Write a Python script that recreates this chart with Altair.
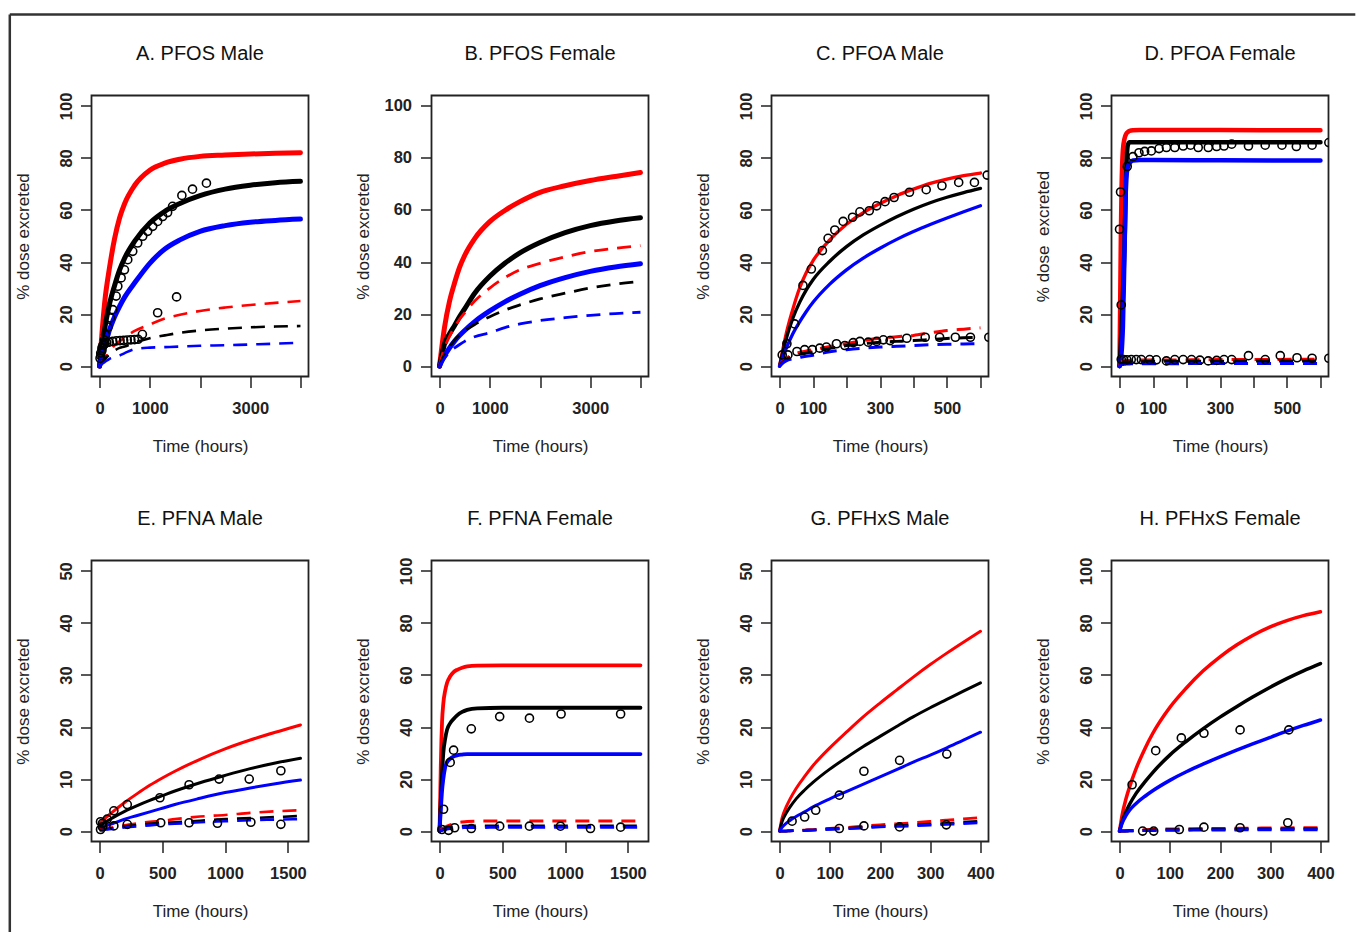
import altair as alt
import pandas as pd

FONT = "Liberation Sans"
INK = "#222222"
RED, BLACK, BLUE = "#ff0000", "#000000", "#0000ff"
W, H = 217, 281

# ---------------- A. PFOS Male ----------------
t_ab = [0, 50, 100, 200, 300, 400, 500, 700, 1000, 1300, 1600, 2000, 2500, 3000, 3500, 4000]
a_red = [0, 13, 24, 38, 49, 57, 62.5, 69.5, 75.3, 78, 79.5, 80.6, 81.1, 81.5, 81.8, 82]
a_black = [0, 7, 14, 24, 31, 37, 41.5, 48, 55, 59.5, 62.5, 65.5, 68, 69.5, 70.5, 71]
a_blue = [0, 4, 8, 14, 19, 23, 26.5, 32, 39.5, 45, 48.5, 51.8, 54, 55.3, 56, 56.5]
a_red_d = [0, 1.5, 3, 5.5, 8, 9.5, 11, 13.5, 16, 18.3, 19.7, 21.2, 22.5, 23.5, 24.3, 25]
a_black_d = [0, 1.2, 2.5, 4.5, 6, 7, 7.5, 9, 10.7, 11.8, 12.8, 13.7, 14.4, 14.9, 15.2, 15.4]
a_blue_d = [0, 0.8, 1.5, 2.8, 3.5, 4.1, 5, 6.5, 7.1, 7.3, 7.5, 7.8, 8.0, 8.3, 8.6, 9]
a_urine_t = [24, 48, 72, 96, 120, 168, 216, 264, 330, 364, 430, 496, 562, 661, 760, 859, 958,
             1058, 1157, 1256, 1355, 1454, 1639, 1851, 2128]
a_urine = [4, 6, 8, 10, 12, 15, 18.5, 21.7, 26.9, 30.7, 33.9, 37, 40.9, 44.1, 47.3, 49.9, 51.8,
           53.7, 55.6, 57.5, 59, 61.4, 65.6, 68, 70.3]
a_feces_t = [10, 24, 48, 72, 96, 144, 192, 264, 336, 408, 480, 552, 624, 696, 768, 853, 1157, 1534]
a_feces = [3, 5, 7, 8, 8.5, 9, 9.2, 9.5, 9.7, 9.8, 9.9, 10, 10.1, 10.2, 10.3, 12.2, 20.5, 26.6]

# ---------------- B. PFOS Female ----------------
b_red = [0, 8, 15, 25, 32, 38, 42.5, 49, 55.5, 59.8, 63.2, 66.8, 69.3, 71.3, 72.9, 74.4]
b_black = [0, 4.5, 8.6, 12.4, 15.6, 19, 22, 28, 34.5, 39.5, 43.5, 47.5, 51.3, 54, 55.8, 57]
b_blue = [0, 2.2, 4, 7, 9.6, 11.8, 13.7, 17.1, 21.2, 24.7, 27.6, 30.9, 34, 36.4, 38.1, 39.3]
b_red_d = [0, 4, 7, 11.5, 15, 18, 20.5, 25, 30, 34, 37, 39.5, 42, 44, 45.3, 46.3]
b_black_d = [0, 2.5, 4.5, 7.5, 10, 12, 13.5, 16, 19, 21.5, 23.5, 25.8, 28, 30, 31.5, 32.6]
b_blue_d = [0, 1.5, 3, 5.5, 7, 8.3, 9.5, 11.3, 12.8, 14.8, 16.2, 17.5, 18.6, 19.5, 20.2, 20.7]

# ---------------- C. PFOA Male ----------------
t_c = [0, 10, 20, 40, 60, 80, 100, 150, 200, 250, 300, 350, 400, 450, 500, 550, 600]
c_red = [0, 6.5, 12.5, 22, 30, 36, 40.5, 48.5, 54.5, 59, 62.5, 65.5, 68, 70.2, 71.9, 73.2, 74.2]
c_black = [0, 5.5, 10.5, 18.5, 24.5, 29.3, 33.2, 40.3, 45.9, 50.4, 54.1, 57.4, 60.3, 62.8, 64.9, 66.7, 68.3]
c_blue = [0, 3.5, 6.8, 12.5, 17, 21, 24.5, 31.5, 37, 41.5, 45.3, 48.7, 51.7, 54.4, 56.9, 59.3, 61.6]
c_red_d = [0, 2, 3, 4.5, 5.3, 5.8, 6.3, 7.5, 8.7, 9.8, 10.7, 11.3, 11.8, 12.8, 13.7, 14.2, 14.7]
c_black_d = [0, 1.5, 2.5, 3.8, 4.5, 5, 5.5, 6.8, 7.9, 8.6, 9.2, 9.5, 9.8, 10.2, 10.6, 10.9, 11.1]
c_blue_d = [0, 1.2, 2, 2.8, 3.3, 3.8, 4.2, 5.5, 6.3, 6.9, 7.3, 7.6, 7.9, 8.2, 8.4, 8.5, 8.6]
c_urine_t = [8, 22, 45, 70, 95, 128, 145, 165, 190, 218, 240, 268, 290, 315, 342, 388, 438, 485,
             535, 582, 620]
c_urine = [4.3, 8.6, 16.2, 31, 37.3, 44.4, 49.1, 52.3, 55.6, 57.2, 59.3, 59.7, 61.6, 63.2, 64.8,
           66.8, 67.8, 69.3, 70.6, 70.6, 73.4]
c_feces_t = [25, 52, 75, 98, 120, 140, 170, 195, 220, 240, 265, 290, 310, 330, 380, 435, 478,
             525, 570, 625]
c_feces = [4.3, 5.6, 6.3, 6.3, 6.9, 7.3, 8.6, 7.9, 9, 9.5, 9.2, 9.5, 10.1, 9.8, 10.7, 11.1, 11.1,
           11.1, 11.1, 11.1]

# ---------------- D. PFOA Female ----------------
t_d = [0, 2, 4, 6, 8, 10, 15, 20, 25, 30, 40, 60, 100, 300, 600]
d_red = [0, 25, 50, 68, 78, 83, 87.5, 89.3, 90, 90.4, 90.6, 90.7, 90.7, 90.7, 90.6]
d_black = [0, 4, 9, 15, 21, 27, 47, 75, 85, 86, 86, 86, 86, 86, 86]
d_blue = [0, 1, 3, 5, 9, 15, 45, 72, 76.5, 78, 79, 79.2, 79.2, 79.1, 79]
d_red_d = [0, 0.8, 1.3, 1.6, 1.8, 1.9, 2.0, 2.1, 2.1, 2.2, 2.2, 2.3, 2.3, 2.5, 2.6]
d_black_d = [0, 0.4, 0.7, 0.9, 1.1, 1.2, 1.4, 1.5, 1.6, 1.6, 1.7, 1.7, 1.8, 1.9, 2.0]
d_blue_d = [0, 0.2, 0.4, 0.5, 0.6, 0.6, 0.7, 0.8, 0.8, 0.8, 0.9, 0.9, 0.9, 1.0, 1.0]
d_urine_t = [0, 3, 5, 23, 40, 58, 75, 95, 118, 140, 165, 190, 212, 235, 265, 290, 312, 335, 385,
             435, 485, 528, 575, 625]
d_urine = [52.6, 66.9, 23.5, 76.7, 80.5, 82, 82.5, 82.7, 83.6, 84, 84, 84.6, 84.9, 84, 84, 84.4,
           84.6, 85.3, 84.6, 84.9, 84.9, 84.4, 84.9, 85.9]
d_feces_t = [5, 12, 22, 35, 50, 65, 90, 110, 140, 165, 190, 215, 240, 265, 290, 312, 335, 385,
             435, 480, 530, 575, 625]
d_feces = [2.6, 2.5, 2.4, 2.5, 2.5, 2.5, 2.5, 2.4, 2.0, 2.5, 2.5, 2.5, 2.3, 2.0, 2.2, 2.5, 2.5,
           4.0, 2.5, 4.0, 3.2, 3.0, 3.0]

# ---------------- E. PFNA Male ----------------
t_e = [0, 50, 100, 200, 300, 400, 500, 600, 800, 1000, 1200, 1400, 1600]
e_red = [1.5, 2.6, 3.6, 5.5, 7.2, 8.8, 10.2, 11.5, 13.8, 15.8, 17.5, 19.0, 20.4]
e_black = [1, 1.8, 2.5, 3.8, 4.9, 5.9, 6.8, 7.7, 9.3, 10.7, 12, 13.1, 14]
e_blue = [0.5, 1, 1.4, 2.3, 3, 3.7, 4.4, 5.1, 6.3, 7.4, 8.3, 9.1, 9.8]
e_red_d = [0.3, 0.5, 0.7, 1.1, 1.5, 1.8, 2.0, 2.3, 2.8, 3.1, 3.5, 3.8, 4.0]
e_black_d = [0.2, 0.4, 0.5, 0.9, 1.2, 1.4, 1.6, 1.7, 2.0, 2.3, 2.5, 2.7, 2.9]
e_blue_d = [0.1, 0.3, 0.4, 0.7, 0.9, 1.1, 1.3, 1.4, 1.7, 1.9, 2.1, 2.2, 2.3]
e_urine_t = [8, 24, 61, 114, 221, 481, 713, 952, 1192, 1444]
e_urine = [1.8, 1.5, 2.3, 3.9, 5.1, 6.4, 8.9, 10, 10, 11.6]
e_feces_t = [8, 24, 114, 221, 487, 713, 939, 1205, 1444]
e_feces = [0.3, 0.8, 1.0, 1.3, 1.6, 1.6, 1.5, 1.7, 1.3]

# ---------------- F. PFNA Female ----------------
t_f = [0, 5, 10, 15, 20, 30, 45, 60, 85, 110, 140, 180, 220, 300, 500, 1000, 1600]
f_red = [0, 12, 25, 35, 42, 49, 54, 57, 59.5, 61, 62, 62.8, 63.3, 63.6, 63.7, 63.7, 63.7]
f_black = [0, 6, 12, 17, 22, 30, 35.5, 39, 41.5, 43, 44.5, 45.8, 46.6, 47.2, 47.4, 47.4, 47.4]
f_blue = [0, 4, 8, 12, 15.5, 20, 24.5, 26.5, 27.8, 28.6, 29.1, 29.4, 29.6, 29.6, 29.6, 29.6, 29.6]
f_red_d = [0, 0.2, 0.4, 0.6, 0.8, 1.1, 1.5, 1.9, 2.4, 2.8, 3.2, 3.5, 3.7, 3.8, 3.9, 3.9, 3.9]
f_black_d = [0, 0.1, 0.2, 0.3, 0.4, 0.6, 0.9, 1.1, 1.4, 1.6, 1.8, 1.9, 1.95, 2, 2, 2, 2]
f_blue_d = [0, 0.1, 0.2, 0.2, 0.3, 0.4, 0.6, 0.8, 1.0, 1.1, 1.2, 1.3, 1.4, 1.4, 1.5, 1.5, 1.5]
f_urine_t = [32, 85, 112, 253, 479, 716, 968, 1442]
f_urine = [8.4, 26.4, 31.1, 39.3, 44, 43.4, 45, 45]
f_feces_t = [19, 72, 120, 253, 479, 716, 963, 1202, 1442]
f_feces = [0.6, 0.3, 1.3, 1.0, 1.9, 1.9, 1.9, 1.0, 1.5]

# ---------------- G. PFHxS Male ----------------
t_gh = [0, 5, 13, 20, 33, 50, 66, 100, 133, 166, 200, 233, 265, 300, 333, 366, 400]
g_red = [0, 2.5, 4.6, 6.0, 8.2, 10.5, 12.5, 16.0, 19.0, 21.9, 24.6, 27.1, 29.5, 32.0, 34.2, 36.3, 38.4]
g_black = [0, 1.8, 3.4, 4.5, 6.2, 7.9, 9.3, 11.9, 14.1, 16.2, 18.2, 20.1, 21.9, 23.7, 25.3, 26.9, 28.5]
g_blue = [0, 0.7, 1.5, 2.0, 2.8, 3.7, 4.6, 6.2, 7.6, 9.0, 10.4, 11.8, 13.2, 14.6, 16.0, 17.5, 19.0]
g_red_d = [0, 0, 0, 0.05, 0.1, 0.2, 0.3, 0.5, 0.7, 0.95, 1.2, 1.4, 1.6, 1.85, 2.1, 2.35, 2.6]
g_black_d = [0, 0, 0, 0.05, 0.1, 0.15, 0.2, 0.4, 0.55, 0.7, 0.9, 1.05, 1.2, 1.35, 1.5, 1.7, 1.9]
g_blue_d = [0, 0, 0, 0.05, 0.1, 0.15, 0.2, 0.35, 0.45, 0.6, 0.8, 0.9, 1.0, 1.15, 1.3, 1.45, 1.6]
g_urine_t = [25, 50, 72, 119, 168, 239, 333]
g_urine = [1.9, 2.7, 4.0, 6.9, 11.5, 13.6, 14.8]
g_feces_t = [119, 168, 239, 332]
g_feces = [0.5, 1.0, 0.8, 1.2]

# ---------------- H. PFHxS Female ----------------
h_red = [0, 6, 12.5, 17, 24, 31.5, 37.5, 47.5, 55, 61.5, 67, 71.5, 75.2, 78.5, 80.9, 82.8, 84.3]
h_black = [0, 3.5, 7.5, 10.3, 14.5, 18.8, 22.5, 29.2, 34.5, 39.3, 43.8, 47.8, 51.5, 55.3, 58.6, 61.6, 64.4]
h_blue = [0, 3, 6, 8, 10.6, 13.3, 15.5, 19.5, 22.8, 25.7, 28.5, 31.1, 33.5, 36, 38.4, 40.6, 42.7]
h_red_d = [0, 0, 0.1, 0.2, 0.3, 0.5, 0.6, 0.8, 0.9, 1.0, 1.0, 1.1, 1.1, 1.2, 1.2, 1.3, 1.3]
h_black_d = [0, 0, 0.05, 0.1, 0.2, 0.3, 0.4, 0.5, 0.6, 0.65, 0.7, 0.75, 0.8, 0.8, 0.85, 0.9, 0.9]
h_blue_d = [0, 0, 0.05, 0.1, 0.15, 0.2, 0.25, 0.3, 0.35, 0.4, 0.4, 0.45, 0.5, 0.5, 0.5, 0.5, 0.5]
h_urine_t = [25, 72, 123, 168, 240, 337]
h_urine = [17.8, 30.9, 35.8, 37.6, 38.9, 38.9]
h_feces_t = [46, 68, 119, 168, 240, 335]
h_feces = [0, 0, 0.6, 1.5, 1.3, 3.2]

Y_TITLE = "% dose excreted"


def panel(title, t, curves, points, xmax, xticks, xhide, ymax, yticks,
          lw, dw, flat_labels=False, ytitle=Y_TITLE, clip_points=False, extra=None):
    rows = []
    for name, color, style, vals in curves:
        for ti, vi in zip(t, vals):
            rows.append({"t": ti, "v": vi, "curve": name, "color": color, "style": style})
    lines_df = pd.DataFrame(rows)

    prow = []
    for name, xs, ys in points:
        for xi, yi in zip(xs, ys):
            prow.append({"t": xi, "v": yi, "set": name})
    pts_df = pd.DataFrame(prow)

    hide = " || ".join(f"datum.value == {h}" for h in xhide)
    label_expr = f"({hide}) ? '' : datum.label" if hide else "datum.label"

    common = dict(domain=False, grid=False, tickSize=11, tickWidth=1.5, tickColor=INK,
                  labelFont=FONT, labelFontSize=16.5, labelFontWeight="bold",
                  labelColor=INK, labelFlush=False, labelOverlap=False,
                  titleFont=FONT, titleFontSize=17, titleFontWeight="normal",
                  titleColor=INK)

    x_axis = alt.Axis(values=xticks, format="d", labelExpr=label_expr,
                      labelAngle=0, labelAlign="center", labelBaseline="top",
                      labelPadding=12.5, title="Time (hours)", titleX=W / 2, titleY=70,
                      titleAlign="center", titleBaseline="middle", **common)
    if flat_labels:
        y_lab = dict(labelAngle=0, labelAlign="right", labelBaseline="middle", labelPadding=9)
    else:
        y_lab = dict(labelAngle=270, labelAlign="center", labelBaseline="alphabetic",
                     labelPadding=9.5)
    y_axis = alt.Axis(values=yticks, format="d", title=ytitle, titleAngle=270,
                      titleX=-68, titleY=H / 2, titleAlign="center", titleBaseline="middle",
                      **y_lab, **common)

    X = alt.X("t:Q", scale=alt.Scale(domain=[-0.04 * xmax, 1.04 * xmax], nice=False, zero=False),
              axis=x_axis)
    Y = alt.Y("v:Q", scale=alt.Scale(domain=[-0.04 * ymax, 1.04 * ymax], nice=False, zero=False),
              axis=y_axis)

    base = alt.Chart(lines_df).encode(
        x=X, y=Y, color=alt.Color("color:N", scale=None), detail="curve:N"
    )
    solid = base.transform_filter("datum.style == 'solid'").mark_line(
        strokeWidth=lw, interpolate="monotone", strokeCap="round")
    dashed = base.transform_filter("datum.style == 'dashed'").mark_line(
        strokeWidth=dw, interpolate="monotone", strokeDash=[14, 9])
    pts = alt.Chart(pts_df).mark_point(
        shape="circle", filled=False, size=65, strokeWidth=1.6, color="black",
        opacity=1, clip=clip_points
    ).encode(x=X, y=Y)

    head = alt.Chart(pd.DataFrame({"label": [title]})).mark_text(
        font=FONT, fontSize=20, color="#111111", align="center", baseline="middle"
    ).encode(text="label:N", x=alt.value(W / 2), y=alt.value(-41.5))

    layers = [solid, dashed, pts, head]
    if extra:
        layers += extra
    return alt.layer(*layers).properties(width=W, height=H)


def six(red, black, blue, red_d, black_d, blue_d):
    return [("red", RED, "solid", red), ("black", BLACK, "solid", black),
            ("blue", BLUE, "solid", blue), ("red_d", RED, "dashed", red_d),
            ("black_d", BLACK, "dashed", black_d), ("blue_d", BLUE, "dashed", blue_d)]


# figure frame: top and left edges
frame_df = pd.DataFrame({"k": [0]})
frame_top = alt.Chart(frame_df).mark_rule(color="#333333", strokeWidth=2.5).encode(
    x=alt.value(-81.7), x2=alt.value(1263.8), y=alt.value(-81))
frame_left = alt.Chart(frame_df).mark_rule(color="#333333", strokeWidth=2.5).encode(
    x=alt.value(-81.7), y=alt.value(-81), y2=alt.value(836.5))

ticks_ab = [0, 1000, 2000, 3000, 4000]
ticks_cd = [0, 100, 200, 300, 400, 500, 600]
ticks_ef = [0, 500, 1000, 1500]
ticks_gh = [0, 100, 200, 300, 400]
y100 = [0, 20, 40, 60, 80, 100]
y50 = [0, 10, 20, 30, 40, 50]

pA = panel("A. PFOS Male", t_ab, six(a_red, a_black, a_blue, a_red_d, a_black_d, a_blue_d),
           [("urine", a_urine_t, a_urine), ("feces", a_feces_t, a_feces)],
           4000, ticks_ab, [2000, 4000], 100, y100, 5.0, 2.6,
           extra=[frame_top, frame_left])
pB = panel("B. PFOS Female", t_ab, six(b_red, b_black, b_blue, b_red_d, b_black_d, b_blue_d),
           [], 4000, ticks_ab, [2000, 4000], 100, y100, 5.0, 2.8, flat_labels=True)
pC = panel("C. PFOA Male", t_c, six(c_red, c_black, c_blue, c_red_d, c_black_d, c_blue_d),
           [("urine", c_urine_t, c_urine), ("feces", c_feces_t, c_feces)],
           600, ticks_cd, [200, 400, 600], 100, y100, 3.3, 3.0, clip_points=True)
pD = panel("D. PFOA Female", t_d, six(d_red, d_black, d_blue, d_red_d, d_black_d, d_blue_d),
           [("urine", d_urine_t, d_urine), ("feces", d_feces_t, d_feces)],
           600, ticks_cd, [200, 400, 600], 100, y100, 4.5, 3.0,
           ytitle="% dose\u00a0 excreted", clip_points=True)
pE = panel("E. PFNA Male", t_e, six(e_red, e_black, e_blue, e_red_d, e_black_d, e_blue_d),
           [("urine", e_urine_t, e_urine), ("feces", e_feces_t, e_feces)],
           1600, ticks_ef, [], 50, y50, 3.0, 2.6)
pF = panel("F. PFNA Female", t_f, six(f_red, f_black, f_blue, f_red_d, f_black_d, f_blue_d),
           [("urine", f_urine_t, f_urine), ("feces", f_feces_t, f_feces)],
           1600, ticks_ef, [], 100, y100, 3.8, 3.0)
pG = panel("G. PFHxS Male", t_gh, six(g_red, g_black, g_blue, g_red_d, g_black_d, g_blue_d),
           [("urine", g_urine_t, g_urine), ("feces", g_feces_t, g_feces)],
           400, ticks_gh, [], 50, y50, 3.0, 2.8)
pH = panel("H. PFHxS Female", t_gh, six(h_red, h_black, h_blue, h_red_d, h_black_d, h_blue_d),
           [("urine", h_urine_t, h_urine), ("feces", h_feces_t, h_feces)],
           400, ticks_gh, [], 100, y100, 3.5, 3.0)

chart = alt.ConcatChart(
    concat=[pA, pB, pC, pD, pE, pF, pG, pH],
    columns=4,
    spacing={"row": 184, "column": 123},
    bounds="flush",
).properties(
    padding={"left": 7.5, "top": 11.5, "right": 0, "bottom": 0},
    background="white",
).configure_view(stroke=INK, strokeWidth=1.8)

chart.save("out.html", embed_options={"renderer": "svg", "actions": False})
